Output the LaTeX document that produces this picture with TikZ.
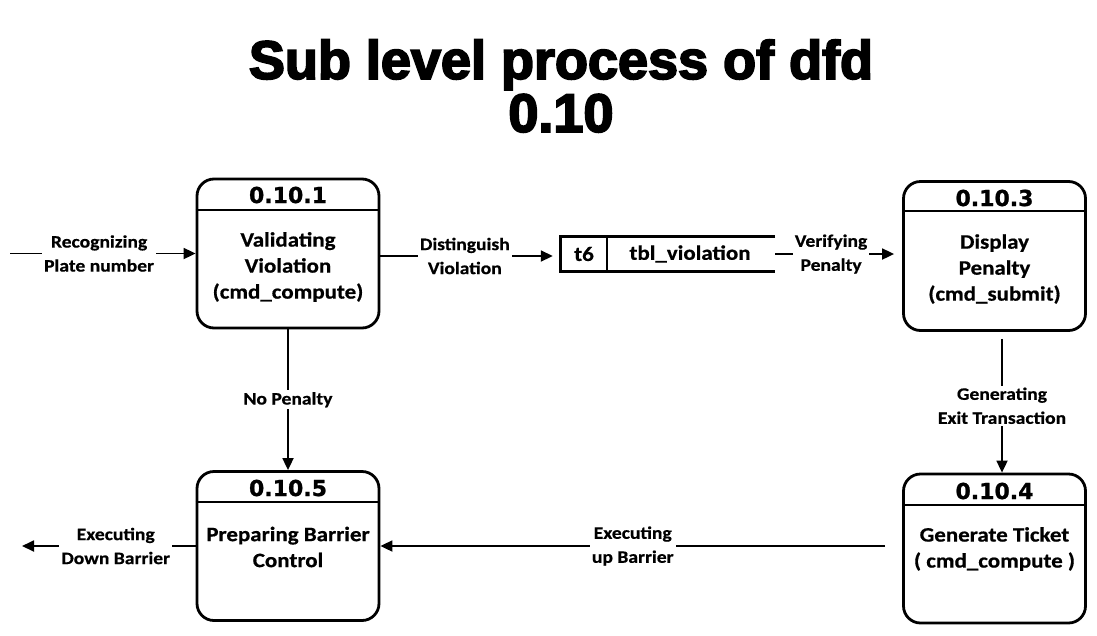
\documentclass[tikz,border=0pt]{standalone}
\usepackage{fontspec}
\setmainfont{Carlito}[FakeStretch=1.12, BoldFeatures={FakeBold=0.6}]
\newfontfamily\titlefont{Liberation Sans}[BoldFeatures={FakeBold=3.5}]
\newfontfamily\numfont{DejaVu Sans Bold}[FakeBold=1]
\usetikzlibrary{arrows.meta,calc}
\begin{document}
\begin{tikzpicture}[x=1pt,y=-1pt,
  proc/.style={draw, line width=2.8pt, rounded corners=17pt, minimum width=182pt, minimum height=149pt, inner sep=0pt},
  hdr/.style={font=\numfont\fontsize{22}{26}\selectfont, inner sep=0pt},
  body/.style={font=\bfseries\fontsize{20.5}{26}\selectfont, align=center, inner sep=0pt},
  lbl/.style={font=\bfseries\fontsize{17.5}{24}\selectfont, align=center, fill=white, inner sep=2pt},
  flow/.style={line width=1.8pt, -{Triangle[length=12pt,width=11pt]}},
  sep/.style={line width=2.2pt},
  storeline/.style={line width=2.8pt}
]
\fill[white] (0,0) rectangle (1097,635);
\useasboundingbox (0,0) rectangle (1097,635);

% title
\node[font=\titlefont\bfseries\fontsize{54}{53}\selectfont, align=center, inner sep=0pt] (title) at (561,86) {Sub level process of dfd\\0.10};

% processes
\node[proc] (b1) at (288,253.5) {};
\node[proc] (b3) at (994.5,256) {};
\node[proc] (b5) at (288,546) {};
\node[proc] (b4) at (994.5,548.5) {};

\draw[sep] ($(b1.north west)+(0,32)$) -- ($(b1.north east)+(0,32)$);
\draw[sep] ($(b3.north west)+(0,31)$) -- ($(b3.north east)+(0,31)$);
\draw[sep] ($(b5.north west)+(0,32)$) -- ($(b5.north east)+(0,32)$);
\draw[sep] ($(b4.north west)+(0,32)$) -- ($(b4.north east)+(0,32)$);

\node[hdr] (h1) at (288,195) {0.10.1};
\node[hdr] (h3) at (994.5,198) {0.10.3};
\node[hdr] (h5) at (288,488) {0.10.5};
\node[hdr] (h4) at (994.5,491) {0.10.4};

\node[body] (t1) at (288,267) {Validating\\Violation\\(cmd\_compute)};
\node[body] (t3) at (994.5,269) {Display\\Penalty\\(cmd\_submit)};
\node[body] (t5) at (288,547) {Preparing Barrier\\Control};
\node[body] (t4) at (994.5,549) {Generate Ticket\\( cmd\_compute )};

% data store
\node[minimum width=214pt, minimum height=34pt, inner sep=0pt] (store) at (668,254) {};
\draw[storeline] (store.north east) -- (store.north west) -- (store.south west) -- (store.south east);
\draw[line width=1.4pt] ($(store.north west)+(46,0)$) -- ($(store.south west)+(46,0)$);
\node[body] (sid) at (584,254) {t6};
\node[body] (sname) at (690,254) {tbl\_violation};

% flows
\coordinate (src) at (10,253.5);
\draw[flow] (src) -- (b1.west) node[lbl, pos=0.48] {Recognizing\\Plate number};

\draw[flow] ($(b1.east)+(0,2.5)$) -- ($(store.west)+(-8,2)$) node[lbl, pos=0.49] {Distinguish\\Violation};

\draw[flow] (store.east) -- ($(b3.west)+(-8,-2)$) node[lbl, pos=0.47] {Verifying\\Penalty};

\draw[flow] (b1.south) -- (b5.north) node[lbl, midway] {No Penalty};

\draw[flow] ($(b3.south)+(7.5,7)$) -- ($(b4.north)+(7.5,0)$) node[lbl, midway] {Generating\\Exit Transaction};

\draw[flow] ($(b4.west)+(-17,-2.5)$) -- (b5.east) node[lbl, midway] {Executing\\up Barrier};

\coordinate (sink) at (22,546);
\draw[flow] (b5.west) -- (sink) node[lbl, pos=0.46] {Executing\\Down Barrier};

\end{tikzpicture}
\end{document}
